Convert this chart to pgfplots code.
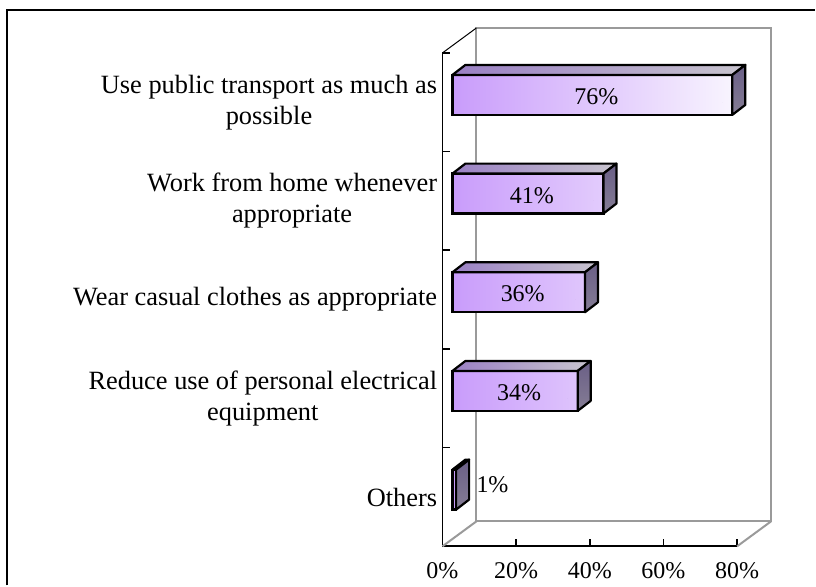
\documentclass[border=0pt]{standalone}
\usepackage{pgfplots}
\pgfplotsset{compat=1.18}
\usepackage{pgfplotstable}
\usepackage{fontspec}
\setmainfont{Liberation Serif}
\definecolor{frontL}{HTML}{C99CFB}
\definecolor{frontR}{HTML}{F8F4FE}
\definecolor{topL}{HTML}{9A80C4}
\definecolor{topR}{HTML}{C8C4CE}
\definecolor{sideT}{HTML}{6A5F86}
\definecolor{sideB}{HTML}{857D95}
\definecolor{wall}{HTML}{9A9A9A}

\pgfplotstableread{
y v
0 1
1 34
2 36
3 41
4 76
}\datatable

\begin{document}
\begin{tikzpicture}
\begin{axis}[
  scale only axis, width=147.5pt, height=247pt,
  xmin=0, xmax=80, ymin=-0.5, ymax=4.5,
  clip=false,
  axis lines*=left,
  axis line style={-, black, line width=0.9pt},
  tick align=inside,
  major tick length=3.75pt,
  tick style={black, line width=0.8pt},
  xtick={0,20,...,80},
  xticklabel={\pgfmathprintnumber{\tick}\%},
  /pgf/number format/assume math mode=true,
  xticklabel style={font=\fontsize{12}{14}\selectfont, inner sep=0pt, yshift=-8pt},
  ytick={-0.5,0.5,...,4.5},
  yticklabels={},
  extra y ticks={0,1,2,3,4},
  extra y tick labels={Others,{Reduce use of personal electrical\\equipment},{Wear casual clothes as appropriate},{Work from home whenever\\appropriate},{Use public transport as much as\\possible}},
  extra y tick style={major tick length=0pt, yticklabel style={align=center, font=\fontsize{13.2}{15.5}\selectfont, inner sep=0pt, xshift=-2.5pt}},
]
\path (rel axis cs:0,0) coordinate (A) (rel axis cs:1,0) coordinate (B)
      (rel axis cs:0,1) coordinate (C) (rel axis cs:1,1) coordinate (D);
\draw[wall, line width=1pt] ([shift={(17pt,12.5pt)}]A) rectangle ([shift={(17pt,12.5pt)}]D);
\draw[wall, line width=1pt] (A) -- ++(17pt,12.5pt) (B) -- ++(17pt,12.5pt);
\draw[black, line width=0.5pt] (C) -- ++(17pt,12.5pt);

\addplot[xbar, bar width=20pt, xshift=5pt, yshift=3.7pt, draw=black, line width=1.1pt,
  left color=frontL, right color=frontR] table[x=v, y=y] {\datatable};

\addplot[scatter, only marks, mark=*, mark size=0pt, mark options={draw=none, fill=none},
  visualization depends on={\thisrow{v} \as \bv},
  scatter/@pre marker code/.code={%
    \pgfmathsetmacro\L{\bv*1.84375}%
    \shadedraw[left color=topL, right color=topR, draw=black, line width=1.1pt, line join=round]
      (5pt-\L pt,13.7pt) -- (5pt,13.7pt) -- (11.5pt,18.7pt) -- (11.5pt-\L pt,18.7pt) -- cycle;
    \shadedraw[top color=sideT, bottom color=sideB, draw=black, line width=1.1pt, line join=round]
      (5pt,13.7pt) -- (11.5pt,18.7pt) -- (11.5pt,-1.3pt) -- (5pt,-6.3pt) -- cycle;
    \ifdim\bv pt>5pt
      \node[font=\fontsize{12}{14}\selectfont, inner sep=0pt] at (7pt-0.5*\L pt,2.8pt) {\pgfmathprintnumber{\bv}\%};
    \else
      \node[font=\fontsize{12}{14}\selectfont, inner sep=0pt, anchor=west] at (15pt,6.3pt) {\pgfmathprintnumber{\bv}\%};
    \fi
  },
  scatter/@post marker code/.code={},
] table[x=v, y=y] {\datatable};

\draw[black, line width=1pt] ([shift={(-218pt,-19.5pt)}]A) -- ([shift={(-218pt,268.5pt)}]A) -- ([shift={(186.5pt,268.5pt)}]A);
\path ([shift={(-221.5pt,-19.5pt)}]A) rectangle ([shift={(186.5pt,273.5pt)}]A);
\end{axis}
\end{tikzpicture}
\end{document}
